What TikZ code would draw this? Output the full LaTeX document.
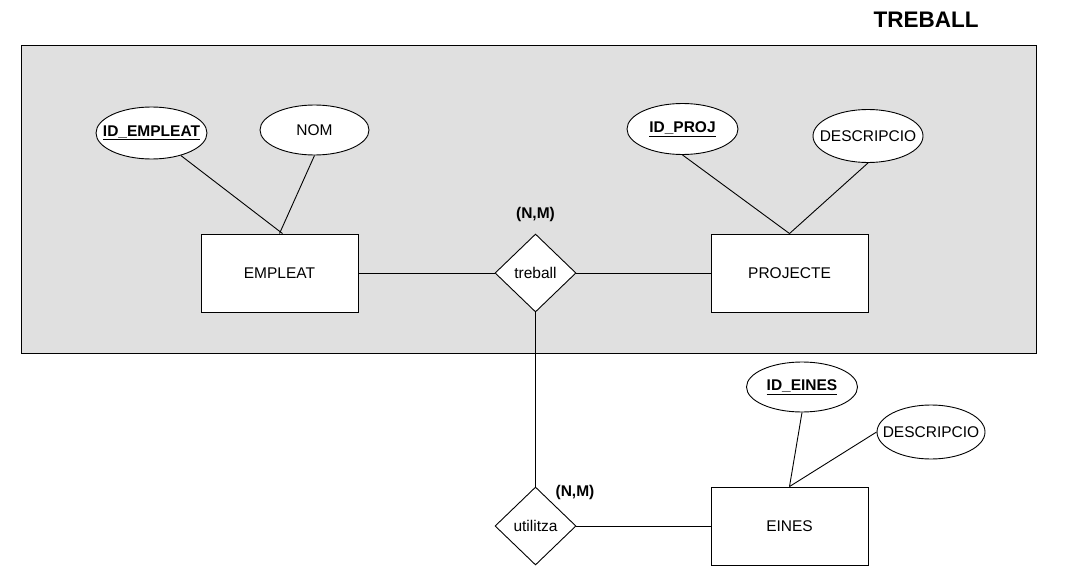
\documentclass[tikz,border=0pt]{standalone}
\usepackage{fontspec}
\setmainfont{Liberation Sans}
\usetikzlibrary{shapes.geometric}
\definecolor{panelgray}{HTML}{E0E0E0}
\tikzset{
  lbl/.style={font=\fontsize{15.5}{18}\selectfont},
  entity/.style={draw, fill=white, line width=0.9pt, minimum width=157pt, minimum height=78pt, inner sep=0pt, font=\fontsize{15.5}{18}\selectfont},
  attr/.style={draw, fill=white, ellipse, line width=0.9pt, inner sep=0pt},
  rel/.style={draw, fill=white, diamond, line width=0.9pt, minimum width=81pt, minimum height=78pt, inner sep=0pt},
  conn/.style={line width=0.9pt},
  card/.style={font=\bfseries\fontsize{15.5}{18}\selectfont},
}
\begin{document}
\begin{tikzpicture}[x=1pt,y=-1pt]
\useasboundingbox (0,0) rectangle (1067,583);
\node[font=\bfseries\fontsize{22.5}{26}\selectfont] (title) at (926,20) {TREBALL};
\draw[fill=panelgray, line width=0.9pt] (21,45) rectangle (1036,353);

% entities
\node[entity] (emp) at (279.5,273) {EMPLEAT};
\node[entity] (proj) at (789.5,273) {PROJECTE};
\node[entity] (eines) at (789.5,526) {EINES};

% relationships
\node[rel, label={[lbl]center:treball}] (treball) at (535.5,273) {};
\node[rel, label={[lbl]center:utilitza}] (utilitza) at (535.5,526) {};

% attributes
\node[attr, minimum width=111pt, minimum height=52pt, label={[lbl,font=\bfseries\fontsize{15.5}{18}\selectfont]center:\underline{ID\_EMPLEAT}}] (idemp) at (151.5,133) {};
\node[attr, minimum width=109pt, minimum height=50pt, label={[lbl]center:NOM}] (nom) at (314.5,130) {};
\node[attr, minimum width=111pt, minimum height=51pt, label={[lbl,font=\bfseries\fontsize{15.5}{18}\selectfont]center:\underline{ID\_PROJ}}] (idproj) at (682.5,129) {};
\node[attr, minimum width=110pt, minimum height=53pt, label={[lbl]center:DESCRIPCIO}] (descp) at (868,136) {};
\node[attr, minimum width=111pt, minimum height=50pt, label={[lbl,font=\bfseries\fontsize{15.5}{18}\selectfont]center:\underline{ID\_EINES}}] (ideines) at (802,387) {};
\node[attr, minimum width=108pt, minimum height=54pt, label={[lbl]center:DESCRIPCIO}] (desce) at (931,432) {};

% cardinalities
\node[card] (c1) at (535.5,214) {(N,M)};
\node[card] (c2) at (575,492) {(N,M)};

% connectors
\draw[conn] (idemp) -- ([xshift=3pt]emp.north);
\draw[conn] (nom.south) -- (emp.north);
\draw[conn] (idproj.south) -- (proj.north);
\draw[conn] (descp.south) -- (proj.north);
\draw[conn] (ideines.south) -- (eines.north);
\draw[conn] (desce.west) -- (eines.north);
\draw[conn] (emp.east) -- (treball.west);
\draw[conn] (treball.east) -- (proj.west);
\draw[conn] (treball.south) -- (utilitza.north);
\draw[conn] (utilitza.east) -- (eines.west);
\end{tikzpicture}
\end{document}
